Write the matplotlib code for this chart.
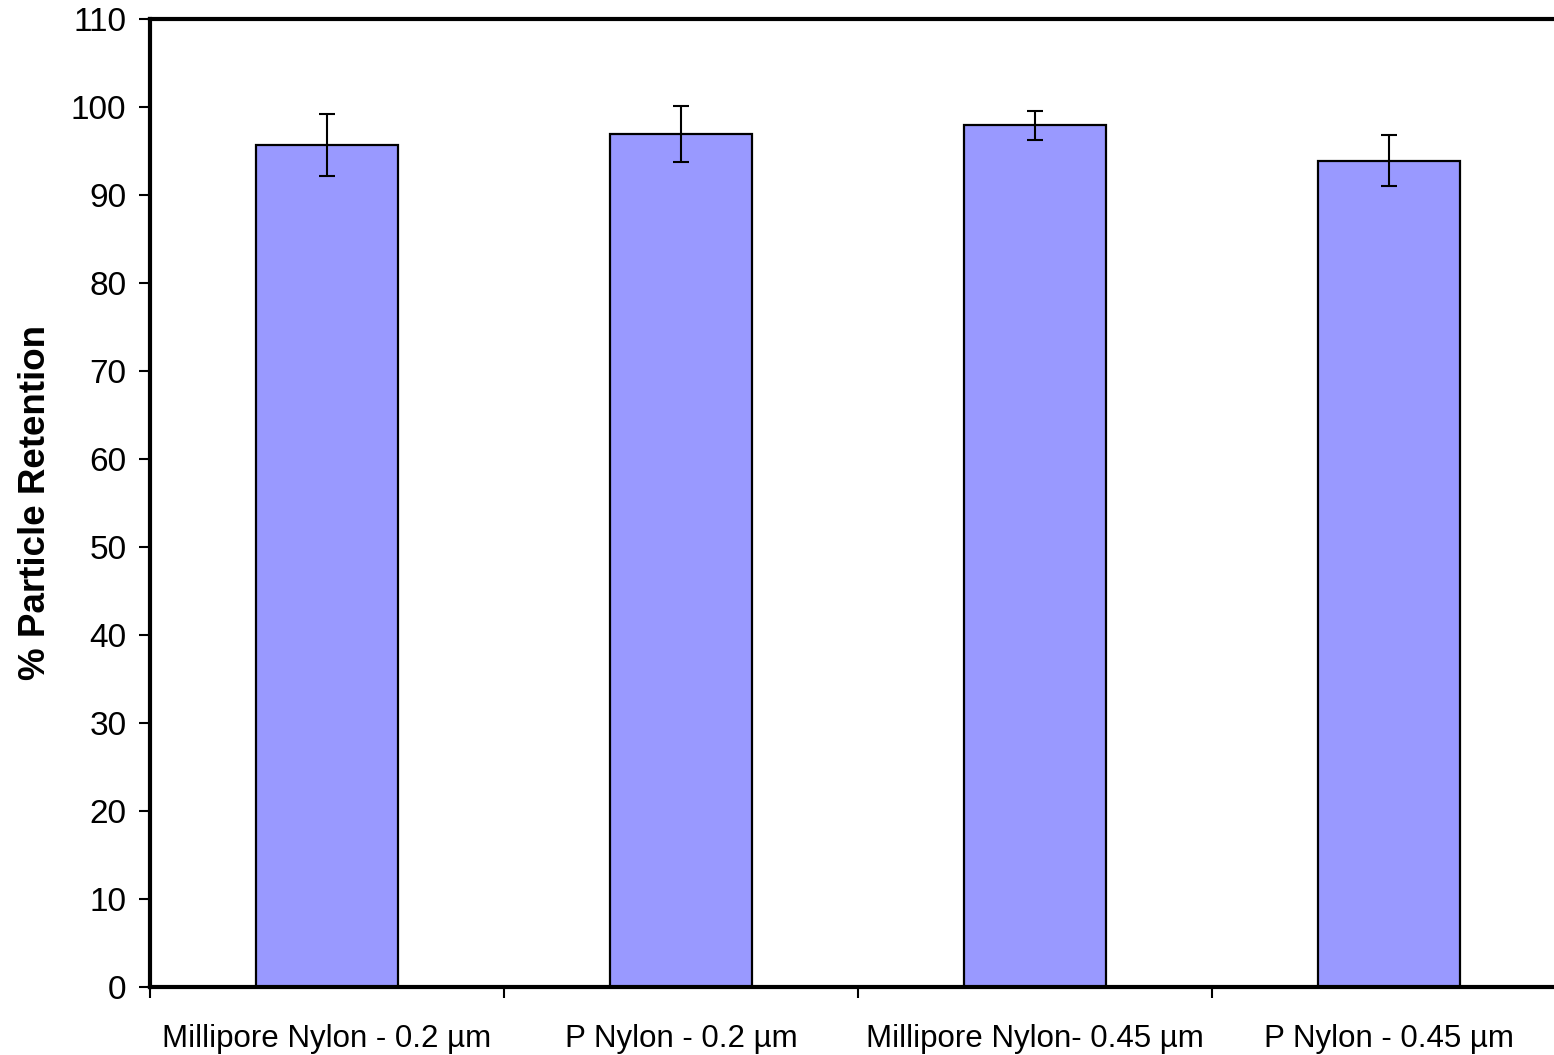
import matplotlib
matplotlib.use("Agg")
import matplotlib.pyplot as plt
import numpy as np

categories = ["Millipore Nylon - 0.2 µm", "P Nylon - 0.2 µm",
              "Millipore Nylon- 0.45 µm", "P Nylon - 0.45 µm"]
retention = [95.7, 96.9, 97.9, 93.9]
errors = [3.5, 3.2, 1.6, 2.9]
yticks = list(range(0, 111, 10))

plt.rcParams['font.family'] = ['Liberation Sans', 'DejaVu Sans']

fig = plt.figure(figsize=(15.54, 10.55), dpi=100)
ax = fig.add_axes([150/1554, 68/1055, 1416/1554, 968/1055])

x = np.arange(len(categories)) + 0.5
ax.bar(x, retention, width=0.4, color="#9999FF", edgecolor="black", linewidth=1.6, zorder=2)
ax.errorbar(x, retention, yerr=errors, fmt="none", ecolor="black", elinewidth=1.5,
            capsize=5.8, capthick=1.5, zorder=3)

ax.set_xlim(0, len(categories))
ax.set_ylim(0, 110)
ax.set_yticks(yticks)
ax.set_yticklabels([str(t) for t in yticks], fontsize=24)
ax.set_xticks(x)
ax.set_xticklabels(categories, fontsize=22.5)
ax.set_xticks(np.arange(len(categories) + 1), minor=True)
ax.tick_params(axis="x", which="major", length=0, pad=27)
ax.tick_params(axis="x", which="minor", length=8, width=1.5, direction="out")
ax.tick_params(axis="y", which="major", length=8, width=1.5, direction="out", pad=9)

for s in ["left", "bottom", "top"]:
    ax.spines[s].set_linewidth(3)
ax.spines["right"].set_visible(False)

ax.set_ylabel("% Particle Retention", fontsize=26.5, fontweight="bold", labelpad=13)

fig.savefig("out.png", dpi=100)
